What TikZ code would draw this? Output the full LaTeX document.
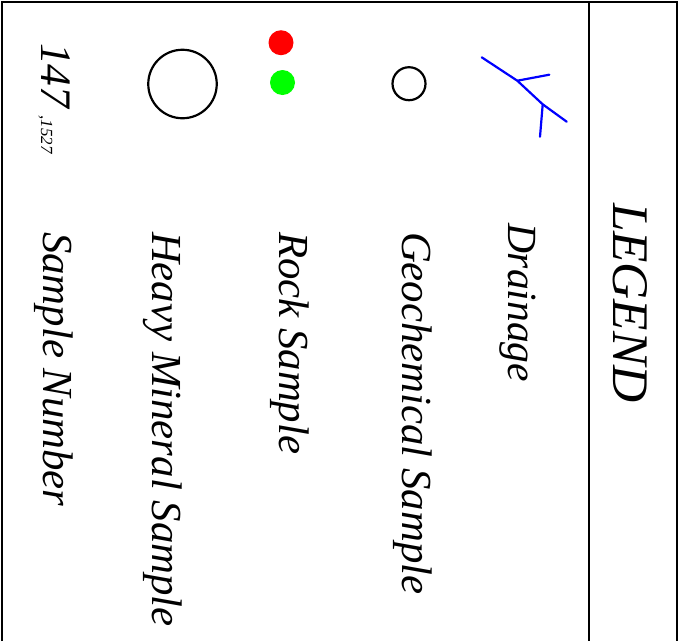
\documentclass[tikz,border=0pt]{standalone}
\usepackage{fontspec}
\setmainfont{Liberation Serif}
\usetikzlibrary{positioning}

\begin{document}
\begin{tikzpicture}[x=1pt,y=-1pt]
    \tikzset{
      frameline/.style={line width=2pt, black},
      legendtext/.style={rotate=-90, anchor=base west, inner sep=0pt,
        outer sep=0pt, font=\itshape\fontsize{42.8}{48}\selectfont},
      river/.style={line width=2.2pt, blue, line cap=round},
      marker/.style={circle, draw, line width=2.2pt, inner sep=0pt},
      sampledot/.style={circle, inner sep=0pt, minimum size=25pt}
    }
    \useasboundingbox (0,0) rectangle (683,641);
    % frame
    \coordinate (fbl) at (2,641);
    \coordinate (ftl) at (2,2);
    \coordinate (ftr) at (677,2);
    \coordinate (fbr) at (677,641);
    \coordinate (dtop) at (589,2);
    \coordinate (dbot) at (589,641);
    \draw[frameline] (fbl) -- (ftl) -- (ftr) -- (fbr);
    \draw[frameline] (dtop) -- (dbot);
    \node[legendtext, font=\itshape\fontsize{51.3}{56}\selectfont] (title) at (613,203) {LEGEND};
    % drainage
    \coordinate (riv1) at (481.7,57.3);
    \coordinate (riv2) at (566.7,121.7);
    \coordinate (junc1) at (517.3,80.7);
    \coordinate (junc2) at (542.7,104.3);
    \coordinate (trib1) at (549.3,74.7);
    \coordinate (trib2) at (540,136.7);
    \draw[river] (riv1) -- (junc1) -- (junc2) -- (riv2);
    \draw[river] (junc1) -- (trib1);
    \draw[river] (junc2) -- (trib2);
    \node[legendtext, font=\itshape\fontsize{41.5}{46}\selectfont] (drainage) at (508,223) {Drainage};
    % samples
    \node[marker, minimum size=33pt] (geochem) at (409,83.7) {};
    \node[legendtext] (geochemtext) at (402,232) {Geochemical Sample};
    \node[sampledot, fill=red] (rockred) at (281,42.7) {};
    \node[sampledot, fill=green] (rockgreen) at (282.5,82.5) {};
    \node[legendtext] (rocktext) at (279,232) {Rock Sample};
    \node[marker, minimum size=68.5pt] (heavy) at (182.5,84) {};
    \node[legendtext] (heavytext) at (152,232) {Heavy Mineral Sample};
    \node[legendtext, font=\itshape\fontsize{43.5}{48}\selectfont] (number) at (41,43) {147\,{\fontsize{17}{19}\selectfont ,1527}};
    \node[legendtext] (numbertext) at (43,232) {Sample Number};
  \end{tikzpicture}
\end{document}
